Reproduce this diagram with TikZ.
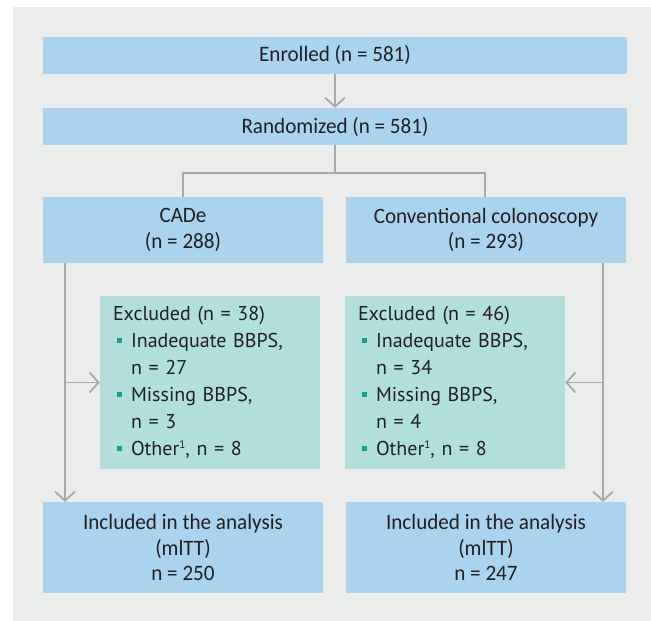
\documentclass[tikz,border=0pt]{standalone}
\usepackage{fontspec}
\setmainfont{PT Sans}
\newfontfamily\condfont[FakeStretch=0.96]{Carlito}
\newfontfamily\exclfont{PT Sans}
\usetikzlibrary{arrows.meta}
\definecolor{bgc}{RGB}{235,236,236}
\definecolor{bluec}{RGB}{171,211,238}
\definecolor{tealc}{RGB}{178,222,220}
\definecolor{linec}{RGB}{167,169,172}
\definecolor{textc}{RGB}{35,31,32}
\definecolor{bulc}{RGB}{26,158,143}
\newcommand{\bul}{\textcolor{bulc}{\rule[0.22em]{5pt}{5pt}}}
\newcommand{\supone}{\raisebox{0.36em}{\fontsize{11}{11}\selectfont 1}}
\tikzset{
  bluebox/.style={fill=bluec, draw=none, inner sep=0pt, align=center, text=textc,
    font=\condfont\fontsize{22}{25.5}\selectfont},
  exclbox/.style={fill=tealc, draw=none, inner xsep=13pt, inner ysep=0pt, align=left, text=textc,
    minimum width=220pt, minimum height=173pt, text width=194pt,
    font=\exclfont\fontsize{20}{27}\selectfont},
  conn/.style={draw=linec, line width=1.8pt},
  arr/.style={conn, -{Straight Barb[length=9pt,width=20pt,line width=1.8pt]}}
}
\begin{document}
\begin{tikzpicture}[x=1pt,y=-1pt]
\useasboundingbox (0,0) rectangle (651,621);
\fill[bgc] (13,7) rectangle (651,621);
\node[bluebox, minimum width=584pt, minimum height=37pt] (enr) at (335,55) {Enrolled (n = 581)};
\node[bluebox, minimum width=584pt, minimum height=37pt] (rand) at (335,126.5) {Randomized (n = 581)};
\node[bluebox, minimum width=280pt, minimum height=66pt] (cade) at (183,230) {CADe\\(n = 288)};
\node[bluebox, minimum width=280pt, minimum height=66pt] (conv) at (486,230) {Conventional colonoscopy\\(n = 293)};
\node[exclbox] (exl) at (210,382.5) {Excluded (n = 38)\\
\hspace*{4pt}\bul\hspace{9pt}Inadequate BBPS,\\
\hspace*{18pt}n = 27\\
\hspace*{4pt}\bul\hspace{9pt}Missing BBPS,\\
\hspace*{18pt}n = 3\\
\hspace*{4pt}\bul\hspace{9pt}Other\supone, n = 8};
\node[exclbox] (exr) at (455,382.5) {Excluded (n = 46)\\
\hspace*{4pt}\bul\hspace{9pt}Inadequate BBPS,\\
\hspace*{18pt}n = 34\\
\hspace*{4pt}\bul\hspace{9pt}Missing BBPS,\\
\hspace*{18pt}n = 4\\
\hspace*{4pt}\bul\hspace{9pt}Other\supone, n = 8};
\node[bluebox, minimum width=280pt, minimum height=91pt] (incl) at (183,547.5) {Included in the analysis\\(mlTT)\\n = 250};
\node[bluebox, minimum width=280pt, minimum height=91pt] (incr) at (486,547.5) {Included in the analysis\\(mlTT)\\n = 247};
% connectors
\draw[arr] (enr.south) -- (rand.north);
\coordinate (split) at (335,173);
\coordinate (sl) at (183,173);
\coordinate (sr) at (485,173);
\draw[conn] (rand.south) -- (split);
\draw[conn] (cade.north -| sl) -- (sl) -- (sr) -- (conv.north -| sr);
\coordinate (lt) at (65,263);
\coordinate (rt) at (603,263);
\draw[arr] (lt) -- (lt |- incl.north);
\draw[arr] (rt) -- (rt |- incr.north);
\draw[arr] (lt |- exl.west) -- (exl.west);
\draw[arr] (rt |- exr.east) -- (exr.east);
\end{tikzpicture}
\end{document}
